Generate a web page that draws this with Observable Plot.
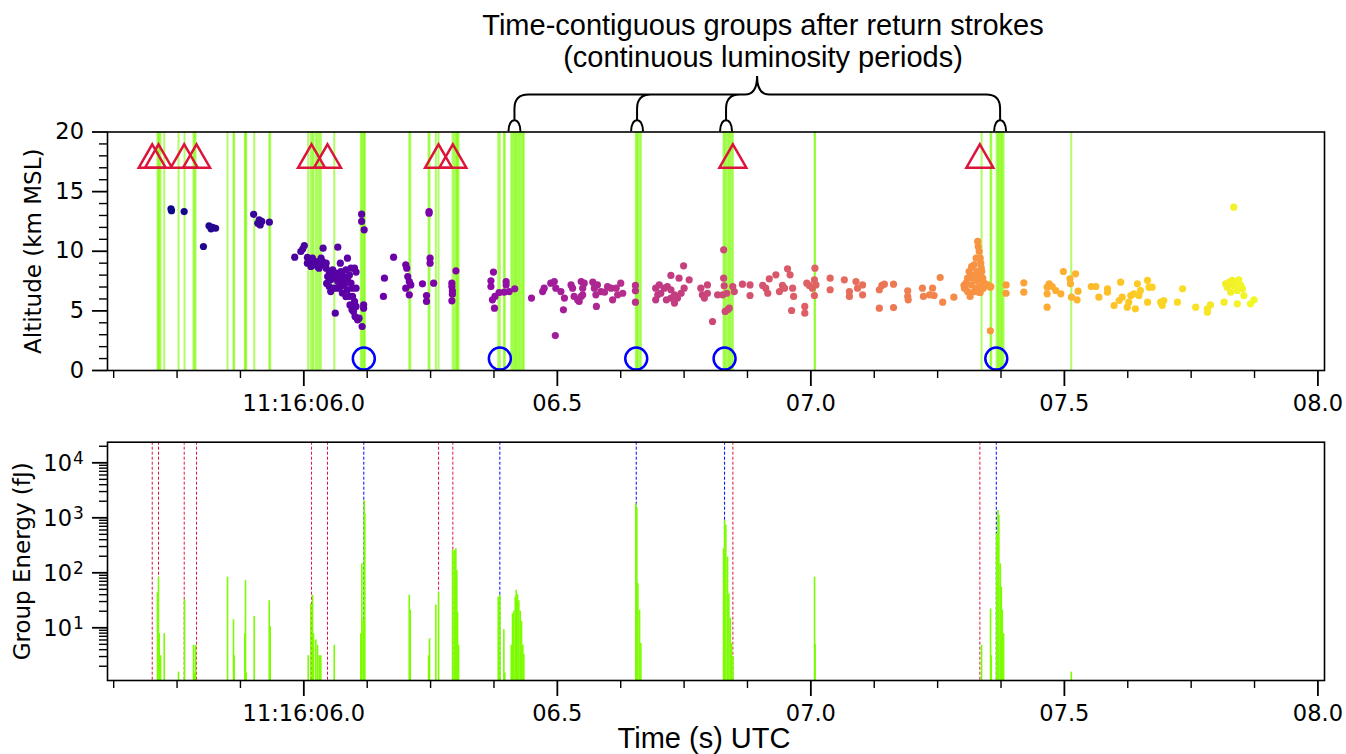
<!DOCTYPE html>
<html><head><meta charset="utf-8">
<script src="https://cdn.jsdelivr.net/npm/d3@7"></script>
<script src="https://cdn.jsdelivr.net/npm/@observablehq/plot@0.6"></script>
<style>
html,body{margin:0;padding:0;background:#fff;overflow:hidden}
#wrap{position:relative;width:1346px;height:754px;overflow:hidden;background:#fff}
#topchart,#botchart{position:absolute;left:0}
#topchart{top:0px}
#botchart{top:420px}
.ann{position:absolute;font-family:"Liberation Sans",Arial,sans-serif;font-size:29px;line-height:32px;color:#000;text-align:center;white-space:nowrap}
</style></head><body>
<div id="wrap">
<div id="topchart"></div><div id="botchart"></div>
<div class="ann" style="left:363px;top:9px;width:800px">Time-contiguous groups after return strokes<br>(continuous luminosity periods)</div>
<div class="ann" style="left:504px;top:722px;width:400px">Time (s) UTC</div>
</div>
<script>
// ---------- axes / ticks ----------
const xDomain = [5.6128, 8.013];
const majorTicks = [6.0, 6.5, 7.0, 7.5, 8.0];
const majorLabels = ["11:16:06.0", "06.5", "07.0", "07.5", "08.0"];
const minorTicks = [5.625, 5.75, 5.875, 6.125, 6.25, 6.375, 6.625, 6.75, 6.875, 7.125, 7.25, 7.375, 7.625, 7.75, 7.875];
const altTicks = [0, 5, 10, 15, 20];
const altMinor = [1, 2, 3, 4, 6, 7, 8, 9, 11, 12, 13, 14, 16, 17, 18, 19];
const energyDomain = [1.1, 23700];
const energyTicks = [10, 100, 1000, 10000];
const energyExp = ["1", "2", "3", "4"];
const energyMinor = [2,3,4,5,6,7,8,9,20,30,40,50,60,70,80,90,200,300,400,500,600,700,800,900,2000,3000,4000,5000,6000,7000,8000,9000,20000];

// ---------- events ----------
// red triangles (and red dashed lines)
const triangleTimes = [5.7010, 5.7134, 5.7641, 5.7884, 6.0152, 6.0467, 6.2657, 6.2939, 6.8462, 7.3333];
const triangleAlt = 18;
// blue circles (return strokes, blue dashed lines)
const circleTimes = [6.1183, 6.3866, 6.6556, 6.8298, 7.3657];
const circleAlt = 1;
// brace annotation: tips at continuous luminosity periods, cusp position
const braceTips = [6.4164, 6.6582, 6.8337, 7.3742];
const braceCusp = 6.8949;

// ---------- groups: [time s, energy fJ] ----------
const groupEnergy = [
[5.7114,44],[5.7134,83],[5.7148,7.8],[5.7174,3.1],[5.7247,7.8],[5.7529,1.56],[5.7647,32],
[5.7824,4.8],[5.7844,1.5],[5.7864,4.8],[5.8495,83],[5.8613,14],[5.8627,3.1],[5.8836,7.8],
[5.8850,72],[5.8864,1.5],[5.9022,16],[5.9318,31],[5.9337,10.5],[6.0087,3.1],[6.0138,27],
[6.0172,39],[6.0191,7.8],[6.0237,6],[6.0270,4.8],[6.0304,3.1],[6.0335,3.1],[6.0600,4.8],
[6.1124,7.8],[6.1144,146],[6.1172,14],[6.1191,2040],[6.1203,1180],[6.2079,39],[6.2099,21],
[6.2460,3.1],[6.2479,6.3],[6.2604,26],[6.2657,44],[6.2933,254],[6.2966,254],[6.2998,273],
[6.3018,110],[6.3032,19],[6.3051,4.8],[6.3834,36],[6.3866,39],[6.3945,9.2],[6.3964,1.5],
[6.4091,4.8],[6.4116,18],[6.4142,20],[6.4170,36],[6.4189,48],[6.4215,40],[6.4241,31],
[6.4268,20],[6.4294,13],[6.4320,4.8],[6.4339,3.3],[6.6548,1800],[6.6568,1500],[6.6588,63],
[6.6621,21],[6.6647,5.2],[6.8278,273],[6.8298,890],[6.8323,730],[6.8357,193],[6.8383,41],
[6.8410,15],[6.8436,5.2],[6.8462,3],[7.0073,83],[7.0083,5],[7.3367,4.8],[7.3544,22],
[7.3558,3.1],[7.3663,514],[7.3689,1360],[7.3708,1100],[7.3736,146],[7.3756,55],[7.3775,21],
[7.3801,7.8],[7.5136,1.56]
];

// ---------- sources: [time s, altitude km] ----------
const sourceAltitude = [
[5.738,13.55],[5.739,13.40],[5.764,13.33],[5.802,10.40],[5.813,12.13],[5.817,11.88],[5.820,12.00],[5.826,11.93],
[5.901,13.10],[5.909,12.35],[5.912,12.63],[5.914,12.20],[5.917,12.50],[5.932,12.44],
[5.982,9.50],[5.994,9.98],[5.998,10.20],[6.001,10.48],[6.007,9.48],[6.011,9.28],[6.007,9.00],[6.014,8.72],
[6.017,9.42],[6.024,9.14],[6.027,8.72],[6.034,9.42],[6.030,8.58],[6.037,9.14],[6.038,10.26],[6.034,8.86],
[6.067,10.34],[6.086,9.42],[6.072,9.00],[6.044,8.58],[6.050,8.30],[6.057,8.44],[6.063,8.16],[6.073,8.30],
[6.083,8.44],[6.093,8.58],[6.100,8.58],[6.103,8.25],[6.047,7.88],[6.053,7.60],[6.060,7.74],[6.067,7.46],
[6.073,7.74],[6.080,7.46],[6.086,7.74],[6.093,7.32],[6.050,7.04],[6.053,6.62],[6.060,6.90],[6.067,6.90],
[6.073,7.04],[6.080,7.18],[6.086,6.77],[6.096,6.90],[6.103,6.90],[6.090,6.21],[6.096,6.21],[6.100,5.79],
[6.103,5.37],[6.098,4.95],[6.101,4.53],[6.106,4.25],[6.109,4.39],[6.115,3.69],[6.062,4.81],[6.118,5.51],
[6.118,5.23],[6.114,13.11],[6.114,12.50],[6.119,11.80],[6.056,8.0],[6.070,8.1],[6.078,7.9],[6.090,8.0],
[6.044,9.0],[6.020,8.9],[6.045,7.3],[6.076,6.5],[6.083,6.2],[6.091,5.5],[6.095,5.1],
[6.177,9.50],[6.159,7.74],[6.157,6.21],[6.201,8.86],[6.203,8.58],[6.201,6.90],
[6.205,7.88],[6.208,7.46],[6.211,7.18],[6.208,6.35],[6.234,7.27],[6.242,6.29],[6.242,5.79],[6.247,13.33],
[6.247,13.19],[6.249,9.42],[6.249,9.00],[6.256,7.32],[6.292,7.32],[6.292,7.04],[6.293,6.68],[6.293,6.40],
[6.292,5.84],[6.300,8.36],[6.374,8.25],[6.369,7.52],[6.369,7.04],[6.372,5.93],[6.377,6.21],[6.376,5.23],
[6.385,6.54],[6.395,6.57],[6.399,7.46],[6.399,7.18],[6.405,6.62],[6.416,6.85],[6.449,6.07],[6.471,6.62],
[6.474,6.90],[6.487,7.32],[6.494,7.46],[6.497,6.90],[6.496,2.93],[6.512,5.09],[6.507,6.62],[6.514,6.07],
[6.527,7.18],[6.530,6.90],[6.533,6.21],[6.540,5.93],[6.547,7.46],[6.550,6.90],[6.547,6.21],[6.543,5.79],
[6.553,7.32],[6.550,6.35],[6.570,7.41],[6.573,6.90],[6.576,6.35],[6.577,5.37],[6.579,7.18],[6.586,6.62],
[6.593,6.57],[6.599,7.04],[6.606,6.90],[6.609,5.93],[6.616,6.90],[6.619,6.35],[6.625,7.32],[6.629,6.48],
[6.654,7.13],[6.654,6.68],[6.654,5.73],[6.694,6.90],[6.698,6.35],[6.701,7.18],[6.694,5.93],[6.704,6.48],
[6.711,6.90],[6.717,7.04],[6.724,6.77],[6.731,6.35],[6.724,6.07],[6.737,6.07],[6.744,6.48],[6.750,6.90],
[6.724,7.97],[6.740,7.74],[6.749,8.78],[6.760,7.60],[6.731,5.65],[6.715,5.93],[6.783,6.90],[6.786,6.35],
[6.790,6.07],
[6.796,7.18],[6.796,6.48],[6.806,4.11],[6.816,6.35],[6.828,10.12],[6.828,7.74],[6.829,7.10],[6.826,6.35],
[6.831,4.95],[6.836,5.09],[6.839,5.23],[6.834,6.48],[6.846,7.04],[6.849,6.62],[6.865,7.24],[6.880,7.18],
[6.880,6.29],[6.905,7.13],[6.911,6.90],[6.915,6.48],[6.918,7.69],[6.931,8.02],[6.938,6.62],[6.944,7.13],
[6.948,6.90],[6.954,8.53],[6.959,8.02],[6.964,6.90],[6.966,6.21],[6.962,5.03],[6.988,5.37],[6.988,4.81],
[6.992,7.32],[6.997,7.13],[7.003,6.90],[7.007,7.60],[7.008,8.58],[7.010,7.18],[7.007,6.29],[7.038,7.74],
[7.038,6.77],[7.066,7.60],[7.076,6.62],[7.076,6.21],[7.089,7.46],[7.092,6.90],[7.102,7.18],[7.102,6.35],
[7.135,6.77],[7.135,5.23],[7.140,7.13],[7.145,7.24],[7.163,7.24],[7.163,5.28],[7.191,6.68],[7.191,6.21],
[7.192,5.93],[7.220,6.90],[7.222,6.21],[7.234,6.35],[7.240,6.90],[7.243,6.29],[7.255,7.80],[7.260,5.73],
[7.282,6.15],
[7.303,6.90],[7.306,7.32],[7.309,7.74],[7.312,8.30],[7.317,8.72],[7.322,8.86],[7.326,9.42],[7.329,10.82],
[7.330,10.40],[7.332,9.98],[7.334,9.42],[7.335,9.00],[7.328,8.30],[7.337,8.30],[7.319,7.74],[7.330,7.60],
[7.339,7.74],[7.342,7.32],[7.316,7.18],[7.326,6.90],[7.334,7.04],[7.349,7.18],[7.355,7.04],[7.309,6.62],
[7.314,6.21],[7.322,6.62],[7.334,6.54],[7.354,3.33],[7.318,8.66],[7.302,7.13],[7.331,6.57],[7.354,6.99],
[7.320,8.0],[7.325,7.9],[7.327,7.5],[7.332,8.1],[7.336,8.6],[7.340,6.9],
[7.385,7.18],[7.385,6.48],[7.420,7.35],[7.420,6.57],[7.466,6.99],[7.466,6.43],[7.466,5.31],[7.470,7.27],
[7.476,7.04],[7.483,6.71],[7.493,6.43],[7.498,8.30],[7.511,7.69],[7.512,7.27],[7.522,8.11],[7.514,6.15],
[7.525,5.93],[7.527,6.65],[7.553,7.04],[7.562,7.04],[7.568,6.15],[7.585,6.85],[7.585,6.57],[7.598,5.45],
[7.608,5.87],[7.611,7.41],[7.614,6.15],[7.624,5.31],[7.627,5.73],[7.631,6.29],[7.637,6.43],[7.640,5.17],
[7.644,7.27],[7.647,6.29],[7.650,6.71],[7.664,7.55],[7.667,6.99],[7.673,6.99],[7.664,5.73],[7.690,5.73],
[7.693,5.45],[7.696,5.87],[7.723,5.73],[7.733,6.85],[7.759,5.31],[7.782,5.17],[7.788,5.50],[7.782,4.89],
[7.815,5.73],[7.834,13.70],[7.818,7.27],[7.825,7.41],[7.831,7.55],[7.838,7.41],[7.844,7.60],[7.821,6.99],
[7.834,7.13],[7.848,7.13],[7.828,6.57],[7.841,6.71],[7.851,6.85],[7.841,5.59],[7.854,6.29],[7.867,5.59],
[7.874,5.93]
];

// ---------- styling ----------
const GREEN = "#7CFC00";
const FONT = "'DejaVu Sans', sans-serif";
const TICKFS = 22.5;

function braceMark(index, scales, values, dims) {
  const X = scales.x;
  const Y0 = dims.marginTop;
  const yl = Y0 - 37, yc = Y0 - 55.5, r = 14, stem = Y0 - 11;
  const [a, b, c, d] = braceTips.map(X);
  const xc = X(braceCusp);
  const p = d3.path();
  p.moveTo(a, stem); p.lineTo(a, yl + r); p.quadraticCurveTo(a, yl, a + r, yl);
  p.lineTo(xc - 12, yl); p.quadraticCurveTo(xc, yl, xc, yc);
  p.quadraticCurveTo(xc, yl, xc + 12, yl);
  p.lineTo(d - r, yl); p.quadraticCurveTo(d, yl, d, yl + r); p.lineTo(d, stem);
  for (const xb of [b, c]) { p.moveTo(xb, stem); p.lineTo(xb, yl + r); p.quadraticCurveTo(xb, yl, xb + r, yl); }
  for (const xt of [a, b, c, d]) { p.moveTo(xt - 6, Y0); p.bezierCurveTo(xt - 6, Y0 - 15, xt + 6, Y0 - 15, xt + 6, Y0); }
  return d3.create("svg:path").attr("d", p.toString()).attr("fill", "none")
    .attr("stroke", "#000").attr("stroke-width", 2).node();
}

const xAxes = () => [
  Plot.axisX({ticks: minorTicks, tickSize: 8, fill: "none", stroke: "#000", strokeWidth: 1.4, label: null}),
  Plot.axisX({ticks: majorTicks, tickSize: 16, tickPadding: 9, stroke: "#000", strokeWidth: 1.8,
    tickFormat: d => majorLabels[majorTicks.indexOf(d)], fontSize: TICKFS, fontFamily: FONT, fill: "#000", label: null})
];

const topPlot = Plot.plot({
  width: 1346, height: 420,
  marginLeft: 107, marginRight: 22, marginTop: 131.5, marginBottom: 50,
  style: {fontFamily: FONT, fontSize: TICKFS + "px", background: "white", color: "#000"},
  x: {domain: xDomain},
  y: {domain: [0, 20]},
  color: {type: "linear", scheme: "plasma"},
  marks: [
    Plot.ruleX(groupEnergy, {x: d => d[0], stroke: GREEN, strokeWidth: 2, strokeOpacity: 0.6}),
    Plot.dot(sourceAltitude, {x: d => d[0], y: d => d[1], fill: d => d[0], r: 3.6}),
    Plot.dot(triangleTimes, {x: d => d, y: () => triangleAlt, dy: 4, symbol: "triangle", r: 10,
      stroke: "crimson", strokeWidth: 2.5, fill: "none"}),
    Plot.dot(circleTimes, {x: d => d, y: () => circleAlt, r: 11, stroke: "blue", strokeWidth: 2.5, fill: "none"}),
    Plot.frame({stroke: "#000", strokeWidth: 1.6}),
    ...xAxes(),
    Plot.axisY({ticks: altMinor, tickSize: 8, fill: "none", stroke: "#000", strokeWidth: 1.4, label: null}),
    Plot.axisY({ticks: altTicks, tickSize: 15, tickPadding: 8.5, stroke: "#000", strokeWidth: 1.8,
      fontSize: TICKFS, fontFamily: FONT, fill: "#000", label: null}),
    Plot.text(["Altitude (km MSL)"], {text: d => d, frameAnchor: "left", dx: -74, rotate: -90,
      textAnchor: "middle", lineAnchor: "middle", fontSize: 23, fontFamily: FONT, fill: "#000"}),
    braceMark
  ]
});
document.getElementById("topchart").appendChild(topPlot);

const botPlot = Plot.plot({
  width: 1346, height: 334,
  marginLeft: 107, marginRight: 22, marginTop: 21.7, marginBottom: 74,
  style: {fontFamily: FONT, fontSize: TICKFS + "px", background: "white", color: "#000"},
  x: {domain: xDomain},
  y: {type: "log", domain: energyDomain},
  marks: [
    Plot.ruleX(triangleTimes, {x: d => d, stroke: "crimson", strokeWidth: 1, strokeDasharray: "3,2"}),
    Plot.ruleX(circleTimes, {x: d => d, stroke: "blue", strokeWidth: 1, strokeDasharray: "3,2"}),
    Plot.ruleX(groupEnergy, {x: d => d[0], y1: () => energyDomain[0], y2: d => d[1], stroke: GREEN, strokeWidth: 1.6}),
    Plot.frame({stroke: "#000", strokeWidth: 1.6}),
    ...xAxes(),
    Plot.axisY({ticks: energyMinor, tickSize: 8, fill: "none", stroke: "#000", strokeWidth: 1.4, label: null}),
    Plot.axisY({ticks: energyTicks, tickSize: 15, fill: "none", stroke: "#000", strokeWidth: 1.8, label: null}),
    Plot.text(energyTicks, {y: d => d, text: () => "10", frameAnchor: "left", dx: -35.5, dy: 1,
      textAnchor: "end", fontSize: TICKFS, fontFamily: FONT, fill: "#000"}),
    Plot.text(energyTicks, {y: d => d, text: (d, i) => energyExp[i], frameAnchor: "left", dx: -34.5, dy: -4.5,
      textAnchor: "start", fontSize: 17, fontFamily: FONT, fill: "#000"}),
    Plot.text(["Group Energy (fJ)"], {text: d => d, frameAnchor: "left", dx: -84.5, rotate: -90,
      textAnchor: "middle", lineAnchor: "middle", fontSize: 23, fontFamily: FONT, fill: "#000"})
  ]
});
document.getElementById("botchart").appendChild(botPlot);
</script>
</body></html>
